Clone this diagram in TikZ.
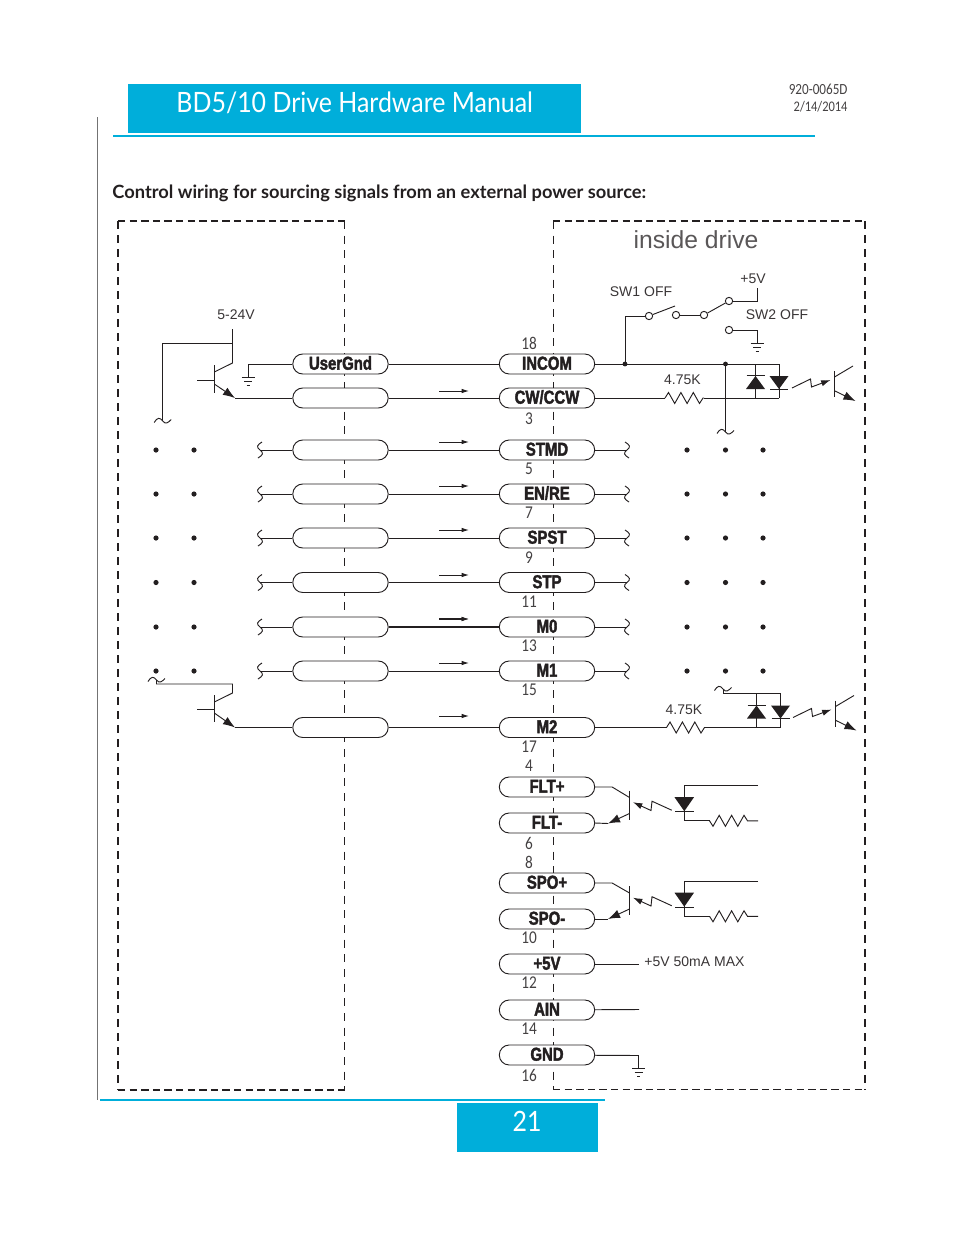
\documentclass[tikz,border=0pt]{standalone}
\usepackage{fontspec}
\setmainfont{Liberation Sans}
\newfontfamily\pagefont{Lato}
\newfontfamily\titlefont[FakeStretch=0.89]{Lato}
\newfontfamily\numfont[FakeStretch=0.85]{Carlito}
\newfontfamily\pinfont[FakeStretch=0.8,FakeBold=2]{Liberation Sans Bold}
\usetikzlibrary{arrows.meta,calc,positioning}
\definecolor{drivecyan}{HTML}{00AEDA}
\definecolor{inkblack}{HTML}{231F20}
\tikzstyle{every path}+=[line width=0.7pt,color=inkblack]
\tikzstyle{pinbox}=[draw,fill=white,rectangle,rounded corners=7.4pt,minimum width=71.5pt,minimum height=15pt,inner sep=0pt,text height=10pt,text depth=1.5pt,font=\pinfont\fontsize{14}{14}\selectfont]
\tikzstyle{pinnum}=[inner sep=0pt,font=\numfont\fontsize{13.5}{14}\selectfont,text=inkblack!85]
\tikzstyle{lbl}=[inner sep=0pt,font=\fontsize{10.5}{12}\selectfont,text=inkblack!90]
\tikzstyle{contact}=[circle,draw,minimum size=5.5pt,inner sep=0pt]
\tikzstyle{dashleft}=[line width=1.5pt,dash pattern=on 6pt off 4.5pt]
\tikzstyle{dashmid}=[line width=0.95pt,dash pattern=on 5.5pt off 3.2pt]
\tikzstyle{dashthin}=[line width=0.7pt,dash pattern=on 6pt off 5pt]
\tikzstyle{bigtip}=[-{Latex[length=9pt,width=6.5pt]}]
\tikzstyle{smalltip}=[-{Latex[length=7pt,width=4.6pt]}]
\tikzstyle{sigtip}=[-{Latex[length=5.5pt,width=3.4pt]}]

% ground symbol below a named point
\newcommand{\drawgnd}[1]{
	\draw ($(#1)+(-6.5,0)$) -- ($(#1)+(6.5,0)$);
	\draw ($(#1)+(-4,4)$) -- ($(#1)+(4,4)$);
	\draw ($(#1)+(-1.5,8)$) -- ($(#1)+(1.5,8)$);
}
\newcommand{\hcut}[1]{
	\draw ($(#1)+(-8.5,1.5)$) .. controls +(3,-5) and +(-3,-4) .. ($(#1)+(0,0)$) .. controls +(3,4) and +(-3,3) .. ($(#1)+(8.5,-1.5)$);
}
\newcommand{\vcut}[2][1]{
	\draw ($(#2)+(2*#1,-8)$) .. controls +(-5*#1,3) and +(-4*#1,-3) .. ($(#2)+(0,0)$) .. controls +(4*#1,3) and +(5*#1,-3) .. ($(#2)+(-2*#1,8)$);
}
\newcommand{\drawres}[3][1]{
	\draw (#2) -- ++(3.5,-5.5*#1) -- ++(6.2,11*#1) -- ++(6.2,-11*#1) -- ++(6.2,11*#1) -- ++(6.2,-11*#1) -- ++(6.2,11*#1) -- ++(3.5,-5.5*#1) -- (#3);
}
% the optocoupler behind an input
\newcommand{\inopto}[3]{
	\begin{scope}[shift={(#1,#2)}]
	\draw (0,0) -- (0,34);
	\draw (#3,0) -- (#3,34);
	\fill (0,12) -- (9.5,25) -- (-9.5,25) -- cycle;
	\draw (-9,11.5) -- (9,11.5);
	\fill (#3,25) -- (#3+9.5,12) -- (#3-9.5,12) -- cycle;
	\draw (#3-9,25) -- (#3+9,25);
	\draw[smalltip] (36.5,24) -- (55,15) -- (56,23) -- (75,16);
	\draw (79,7) -- (79,33);
	\draw (79,13) -- (97.5,2);
	\draw[bigtip] (79.5,27) -- (100,37);
	\end{scope}
}
% the optocoupler behind an output
\newcommand{\outopto}[3]{
	\begin{scope}[shift={(0,#3)}]
	\draw (#1.east) -- ++(17,0) -- (629.5,10);
	\draw (629.5,3) -- (629.5,32);
	\draw[bigtip] (629.5,26) -- (608,36);
	\draw (608,36) -- (#2.east);
	\draw[smalltip] (671.7,22.7) -- (652,13.7) -- (651,23) -- (633,14.7);
	\draw (758,-1.7) -- (684,-1.7) -- (684,33.3) -- (709.5,33.3);
	\fill (674.5,9.7) -- (694,9.7) -- (684.3,23.7) -- cycle;
	\draw (675,24) -- (693.5,24);
	\coordinate (ra) at (709.5,33.3);
	\coordinate (rb) at (758,33.3);
	\drawres[-1]{ra}{rb}
	\end{scope}
}

\begin{document}
\begin{tikzpicture}[x=0.75pt,y=-0.75pt]
\useasboundingbox (0,0) rectangle (954,1235);

% page furniture
\fill[drivecyan] (128,84) rectangle (581,133);
\fill[drivecyan] (457,1103) rectangle (598,1152);
\draw[drivecyan,line width=1.3pt] (113,136) -- (815,136);
\draw[drivecyan,line width=1.3pt] (100,1100) -- (605,1100);
\draw[black!55,line width=0.6pt] (97.5,117) -- (97.5,1100);
\node[anchor=west,inner sep=0pt,text=white,font=\titlefont\fontsize{21}{24}\selectfont] (title) at (176,102.5) {BD5/10 Drive Hardware Manual};
\node[anchor=east,inner sep=0pt,text=inkblack!85,font=\numfont\fontsize{11.6}{12}\selectfont] (docnum) at (848,89.5) {920-0065D};
\node[anchor=east,inner sep=0pt,text=inkblack!85,font=\numfont\fontsize{11}{12}\selectfont] (docdate) at (848,106.5) {2/14/2014};
\node[anchor=west,inner sep=0pt,text=inkblack,font=\pagefont\bfseries\fontsize{13.7}{15}\selectfont] (heading) at (112,193.5) {Control wiring for sourcing signals from an external power source:};
\node[inner sep=0pt,text=white,font=\titlefont\fontsize{21}{24}\selectfont] (pageno) at (527,1121) {21};

% the two dashed boxes
\draw[dashleft] (118,221) -- (118,1090);
\draw[dashmid] (118,221) -- (345,221);
\draw[dashmid] (118,1090) -- (345,1090);
\draw[dashthin] (344.7,221) -- (344.7,1090);
\draw[dashmid] (553,221) -- (865,221);
\draw[dashmid] (553,1089.2) -- (865,1089.2);
\draw[dashleft] (865,221) -- (865,1089.5);
\draw[dashthin] (553,221) -- (553,1089.5);
\node[inner sep=0pt,font=\fontsize{18.5}{20}\selectfont,text=inkblack!75] (inside) at (696,240) {inside drive};

% connectors that run from the outside to the drive
\foreach \nm/\lab/\y/\ya in {cw/CW\slash CCW/398/391,stmd/STMD/450/442,enre/EN\slash RE/494/486,spst/SPST/538/530,stp/STP/582.5/575,mzero/M0/627/619,mone/M1/671/663,mtwo/M2/727.5/716}{
	\node[pinbox] (l\nm) at (340.5,\y) {};
	\node[pinbox] (\nm) at (547,\y) {\lab};
	\draw (l\nm) -- (\nm);
	\coordinate (\nm a) at (439,\ya);
	\coordinate (\nm b) at (469,\ya);
	\draw[sigtip] (\nm a) -- (\nm b);
}
\draw[line width=1.2pt] (lmzero) -- (mzero);
\draw[line width=1.2pt,sigtip] (mzeroa) -- (mzerob);
\node[pinbox] (lgnd) at (340.5,364) {UserGnd};
\node[pinbox] (incom) at (547,364) {INCOM};
\draw (lgnd) -- (incom);

% the pins with no partner
\foreach \nm/\lab/\y in {fltp/FLT+/787,fltm/FLT-/823,spop/SPO+/883,spom/SPO-/919,five/+5V/964,ain/AIN/1010,gnd/GND/1055}{
	\node[pinbox] (\nm) at (547,\y) {\lab};
}
\foreach \n/\y in {18/343,3/419,5/469,7/513,9/558,11/602,13/646,15/690,17/747,4/766,6/843,8/862,10/938,12/983,14/1029,16/1075}{
	\node[pinnum] (n\n) at (529,\y) {\n};
}

% cut off wires and dots
\foreach \nm/\y in {stmd/450,enre/494,spst/538,stp/582.5,mzero/627,mone/671}{
	\coordinate (lc\nm) at (260,\y);
	\coordinate (rc\nm) at (627,\y);
	\draw (l\nm) -- (lc\nm);
	\draw (\nm) -- (rc\nm);
	\vcut{lc\nm}
	\vcut[-1]{rc\nm}
	\foreach \x in {156,194,687,725.5,763}{
		\fill (\x,\y) circle (2.6);
	}
}

% driver on the top left
\coordinate (qa) at (232.5,329);
\coordinate (qb) at (232.5,343);
\coordinate (qc) at (162.7,343);
\coordinate (qd) at (162.7,421);
\coordinate (qe) at (235,398);
\draw (qa) -- (232.5,363) -- (214.3,372);
\draw (197,380) -- (214.3,380);
\draw (214.3,365) -- (214.3,393);
\draw[bigtip] (214.3,384) -- (qe);
\draw (qe) -- (lcw);
\draw (qb) -- (qc) -- (qd);
\hcut{qd}
\node[lbl] (vin) at (236,314.5) {5-24V};
\coordinate (ga) at (248,364);
\coordinate (gb) at (248,377);
\draw (lgnd) -- (ga) -- (gb);
\drawgnd{gb}

% driver on the bottom left
\coordinate (pc) at (156.5,680);
\coordinate (pa) at (156.5,684);
\coordinate (pb) at (232.5,684);
\coordinate (pe) at (235,727.5);
\hcut{pc}
\draw (pc) -- (pa) -- (pb) -- (232.5,693) -- (214.3,702);
\draw (197,709) -- (214.3,709);
\draw (214.3,695) -- (214.3,722);
\draw[bigtip] (214.3,713) -- (pe);
\draw (pe) -- (lmtwo);

% the switches
\coordinate (ja) at (625,364);
\coordinate (jb) at (725.5,364);
\coordinate (jc) at (779,364);
\coordinate (jd) at (725.5,432);
\fill (ja) circle (2.4);
\fill (jb) circle (2.4);
\draw (incom) -- (jc);
\draw (jb) -- (jd);
\hcut{jd}
\node[contact] (swa) at (649,316) {};
\node[contact] (swb) at (676,315) {};
\node[contact] (swc) at (704,315) {};
\node[contact] (swd) at (729,301) {};
\node[contact] (swe) at (729,330) {};
\coordinate (vpos) at (757,288);
\coordinate (gc) at (757,343.5);
\coordinate (swarm) at (675,306);
\draw (ja) -- (625,316) -- (swa);
\draw (swa) -- (swarm);
\draw (swb) -- (swc);
\draw (swc) -- (swd);
\draw (swd) -- (757,301) -- (vpos);
\draw (swe) -- (757,330) -- (gc);
\drawgnd{gc}
\node[lbl] (swone) at (641,291.5) {SW1 OFF};
\node[lbl] (swtwo) at (777,315) {SW2 OFF};
\node[lbl] (vfive) at (753,279) {+5V};

% the input stages
\coordinate (ra) at (665,398);
\coordinate (rb) at (704,398);
\coordinate (rc) at (779,398);
\draw (cw) -- (ra);
\drawres{ra}{rb}
\draw (rb) -- (rc);
\inopto{755.5}{364}{23.5}
\node[lbl] (rone) at (682.5,380) {4.75K};

\coordinate (sa) at (666.5,727.5);
\coordinate (sb) at (705,727.5);
\coordinate (sc) at (780.5,727.5);
\coordinate (sd) at (723,693.5);
\coordinate (se) at (780.5,693.5);
\coordinate (sf) at (723,689);
\draw (mtwo) -- (sa);
\drawres{sa}{sb}
\draw (sb) -- (sc);
\draw (sf) -- (sd) -- (se);
\hcut{sf}
\inopto{756.5}{693.5}{24}
\node[lbl] (rtwo) at (684,710) {4.75K};

% the output stages
\outopto{fltp}{fltm}{787.5}
\outopto{spop}{spom}{883}

% the power pins
\coordinate (fa) at (639,964);
\coordinate (fb) at (639,1009.5);
\coordinate (fc) at (638.5,1055.5);
\coordinate (fd) at (638.5,1068);
\draw (five) -- (fa);
\draw (ain) -- (fb);
\draw (gnd) -- (fc) -- (fd);
\drawgnd{fd}
\node[lbl,anchor=west] (vmax) at (644,962) {+5V 50mA MAX};
\end{tikzpicture}
\end{document}
